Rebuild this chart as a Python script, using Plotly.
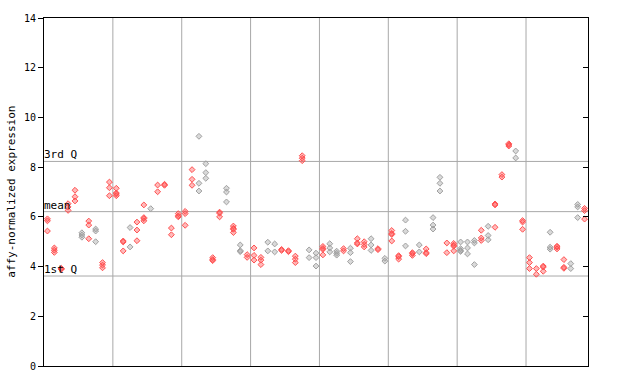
import plotly.graph_objects as go

# ---- data ----
sample_values = [
    [5.92, 5.84, 5.43], [4.75, 4.66, 4.57], [3.93, 3.91, 3.89], [6.53, 6.40, 6.26], [7.07, 6.81, 6.64],
    [5.36, 5.27, 5.18], [5.83, 5.67, 5.12], [5.51, 5.43, 5.00], [4.16, 4.06, 3.95], [7.40, 7.17, 6.85],
    [7.15, 6.96, 6.92, 6.85], [5.03, 4.99, 4.63], [5.57, 4.79], [5.79, 5.47, 5.04], [6.48, 5.97, 5.93, 5.84],
    [6.33], [7.28, 7.01], [7.31, 7.27], [5.55, 5.28], [6.13, 6.04, 6.00],
    [6.22, 6.13, 5.66], [7.90, 7.51, 7.27], [9.24, 7.35, 7.04], [8.14, 7.78, 7.55], [4.36, 4.28, 4.24],
    [6.19, 6.15, 6.00], [7.15, 7.00, 6.60], [5.63, 5.54, 5.50, 5.37], [4.87, 4.64, 4.60], [4.48, 4.37],
    [4.75, 4.45, 4.26], [4.37, 4.26, 4.08], [4.98, 4.63], [4.91, 4.59], [4.69, 4.65],
    [4.64, 4.60], [4.42, 4.30, 4.16], [8.46, 8.36, 8.26], [4.67, 4.36], [4.54, 4.36, 4.02],
    [4.81, 4.73, 4.69, 4.47], [4.92, 4.75, 4.59], [4.62, 4.54, 4.46], [4.72, 4.63], [4.74, 4.56, 4.20],
    [5.12, 4.95, 4.91], [5.00, 4.89, 4.79], [5.12, 4.87, 4.65], [4.72, 4.68], [4.33, 4.22],
    [5.45, 5.33, 5.29, 5.03], [4.44, 4.40, 4.30], [5.87, 5.42, 4.83], [4.56, 4.52, 4.45], [4.87, 4.59],
    [4.71, 4.56, 4.52], [5.97, 5.67, 5.51], [7.59, 7.35, 7.04], [4.95, 4.56], [4.93, 4.86, 4.82, 4.63],
    [4.99, 4.72, 4.65, 4.61], [4.99, 4.75, 4.51], [5.05, 4.95, 4.08], [5.46, 5.15, 5.05], [5.62, 5.25, 5.08],
    [6.52, 6.48, 5.58], [7.70, 7.60], [8.94, 8.90, 8.85], [8.65, 8.37], [5.85, 5.79, 5.50],
    [4.36, 4.16, 3.92], [3.92, 3.69], [4.02, 3.98, 3.81], [5.38, 4.78, 4.70], [4.82, 4.78, 4.71],
    [4.28, 3.97, 3.93], [4.12, 3.92], [6.50, 6.40, 5.97], [6.34, 6.25, 5.91],
]
sample_groups = list(
    "rrrrrgrgrr"
    "rrgrrgrrrr"
    "rrggrrgrgr"
    "rrggrrrrgg"
    "rggrgrrgrg"
    "rrgrgrggrr"
    "gggrgrrrgr"
    "rrrgrrggr"
)
quartile_labels = ["3rd Q", "mean", "1st Q"]
quartile_values = [8.23, 6.21, 3.62]
y_ticks = [0, 2, 4, 6, 8, 10, 12, 14]
group_boundaries = [9.5, 19.5, 29.5, 39.5, 49.5, 59.5, 69.5]

RED = "#FF5050"
GRAY = "#A0A0A0"
FONT = "DejaVu Sans Mono"

fig = go.Figure()

for grp, col, fill in [("g", GRAY, "rgba(160,160,160,0.4)"), ("r", RED, "rgba(255,80,80,0.4)")]:
    xs, ys = [], []
    for i, vals in enumerate(sample_values):
        if sample_groups[i] == grp:
            for v in vals:
                xs.append(i)
                ys.append(v)
    fig.add_trace(go.Scatter(
        x=xs, y=ys, mode="markers", showlegend=False, hoverinfo="y",
        marker=dict(symbol="diamond", size=4.5, color=fill, line=dict(color=col, width=1)),
    ))

# invisible trace for right-side axis
fig.add_trace(go.Scatter(x=[0], y=[0], yaxis="y2", mode="markers",
                         marker=dict(opacity=0), showlegend=False, hoverinfo="skip"))

for v in quartile_values:
    fig.add_hline(y=v, line=dict(color="#A8A8A8", width=1), layer="below")
for b in group_boundaries:
    fig.add_vline(x=b, line=dict(color="#A8A8A8", width=1), layer="below")

for lab, v in zip(quartile_labels, quartile_values):
    fig.add_annotation(x=0, xref="paper", y=v, yref="y", text=lab, showarrow=False,
                       xanchor="left", yanchor="bottom", yshift=-2, xshift=-2,
                       font=dict(family=FONT, size=11, color="black"))

fig.add_annotation(x=-0.061, xref="paper", y=0.5, yref="paper", text="affy-normalized expression",
                   textangle=-90, showarrow=False, xanchor="center", yanchor="middle",
                   font=dict(family=FONT, size=11, color="black"))

fig.update_layout(
    width=640, height=384,
    margin=dict(l=44, r=52, t=13, b=15),
    paper_bgcolor="white", plot_bgcolor="white",
    font=dict(family=FONT, size=10, color="black"),
    xaxis=dict(range=[-0.5, 78.5], showgrid=False, zeroline=False, showticklabels=False,
               ticks="", showline=True, linecolor="black", linewidth=1, mirror=True),
    yaxis=dict(range=[0, 14], tickvals=y_ticks, showgrid=False, zeroline=False,
               ticks="outside", ticklen=5, tickcolor="black", showline=True,
               linecolor="black", linewidth=1,
               tickfont=dict(family=FONT, size=10, color="black")),
    yaxis2=dict(range=[0, 14], overlaying="y", side="right", tickvals=y_ticks[1:-1],
                ticks="inside", ticklen=5, tickcolor="black", showticklabels=False,
                showgrid=False, zeroline=False, showline=True, linecolor="black", linewidth=1),
)

fig.write_html("out.html", config={"displayModeBar": False},
               post_script="document.body.style.margin='0px';document.body.style.padding='0px';")
